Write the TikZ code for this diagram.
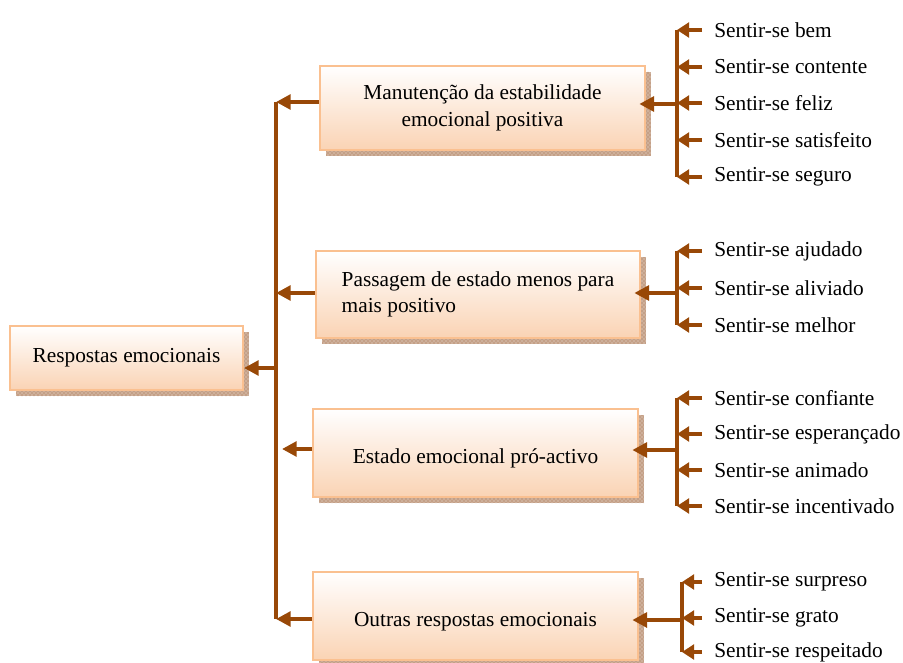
\documentclass[tikz,border=0pt]{standalone}
\usepackage{fontspec}
\setmainfont{Liberation Serif}
\usepackage{xcolor}
\usepackage{tikz}
\usetikzlibrary{patterns}
\usetikzlibrary{shapes,arrows.meta,positioning,shadows}

\definecolor{castanho}{RGB}{152,72,7}
\definecolor{laranjaclaro}{RGB}{250,192,144}
\definecolor{pessego}{RGB}{250,211,180}
\definecolor{sombra}{RGB}{196,160,135}

\tikzset{
    caixa/.style={
        draw=laranjaclaro,
        line width=1.5pt,
        top color=white,
        bottom color=pessego,
        general shadow={shadow xshift=4.5pt, shadow yshift=-4.5pt, fill=sombra,
            postaction={pattern=crosshatch dots, pattern color=white!70!sombra}},
        font=\fontsize{16}{20}\selectfont,
        align=center,
        inner sep=0pt
    },
    folha/.style={
        anchor=west,
        inner xsep=9pt,
        inner ysep=0pt,
        font=\fontsize{16}{20}\selectfont
    },
    tronco/.style={
        draw=castanho,
        line width=3pt
    },
    seta/.style={
        draw=castanho,
        line width=3pt,
        -{Triangle[length=11pt,width=11pt]}
    },
    setinha/.style={
        draw=castanho,
        line width=3pt,
        -{Triangle[length=9pt,width=11pt]}
    }
}

\begin{document}
\begin{tikzpicture}[x=0.75pt,y=-0.75pt]
                \useasboundingbox (0,0) rectangle (903,663);

                \node[caixa, minimum width=174.75pt, minimum height=48pt] (respostas) at (126.5,358) {Respostas emocionais};
                \node[caixa, minimum width=243.75pt, minimum height=63pt] (manutencao) at (482.5,108) {Manuten\c{c}\~ao da estabilidade\\emocional positiva};
                \node[caixa, minimum width=243pt, minimum height=65pt, align=left] (passagem) at (478,294.5) {Passagem de estado menos para\\mais positivo};
                \node[caixa, minimum width=243.75pt, minimum height=66pt, text height=20pt, text depth=4pt] (estado) at (475.5,453) {Estado emocional pr\'o-activo};
                \node[caixa, minimum width=243.75pt, minimum height=66pt, text height=19.5pt, text depth=4pt] (outras) at (475.5,616) {Outras respostas emocionais};

                \node[folha] (bem) at (702,30) {Sentir-se bem};
                \node[folha] (contente) at (702,67) {Sentir-se contente};
                \node[folha] (feliz) at (702,103) {Sentir-se feliz};
                \node[folha] (satisfeito) at (702,140) {Sentir-se satisfeito};
                \node[folha] (seguro) at (702,177) {Sentir-se seguro};

                \node[folha] (ajudado) at (702,251) {Sentir-se ajudado};
                \node[folha] (aliviado) at (702,288) {Sentir-se aliviado};
                \node[folha] (melhor) at (702,325) {Sentir-se melhor};

                \node[folha] (confiante) at (702,398) {Sentir-se confiante};
                \node[folha] (esperancado) at (702,434) {Sentir-se esperan\c{c}ado};
                \node[folha] (animado) at (702,470) {Sentir-se animado};
                \node[folha] (incentivado) at (702,506) {Sentir-se incentivado};

                \node[folha] (surpreso) at (702,582) {Sentir-se surpreso};
                \node[folha] (grato) at (702,618) {Sentir-se grato};
                \node[folha] (respeitado) at (702,652) {Sentir-se respeitado};

                \coordinate (k1) at (276,102);
                \coordinate (k2) at (276,293);
                \coordinate (k3) at (282,449);
                \coordinate (k4) at (276,619);
                \coordinate (kr) at (276,368);

                \coordinate (b1) at (677,104);
                \coordinate (b2) at (677,293);
                \coordinate (b3) at (677,450);
                \coordinate (b4) at (682,620);

                \draw[tronco] (k1) -- (k4);
                \draw[seta] (manutencao.west |- k1) -- (k1);
                \draw[seta] (passagem.west |- k2) -- (k2);
                \draw[seta] (estado.west |- k3) -- (k3);
                \draw[seta] (outras.west |- k4) -- (k4);
                \draw[seta] (kr) -- (respostas.east |- kr);

                \draw[tronco] (b1 |- bem.west) -- (b1 |- seguro.west);
                \draw[seta, shorten >=-5pt] (b1) -- (manutencao.east |- b1);
                \draw[setinha] (bem.west) -- (b1 |- bem.west);
                \draw[setinha] (contente.west) -- (b1 |- contente.west);
                \draw[setinha] (feliz.west) -- (b1 |- feliz.west);
                \draw[setinha] (satisfeito.west) -- (b1 |- satisfeito.west);
                \draw[setinha] (seguro.west) -- (b1 |- seguro.west);

                \draw[tronco] (b2 |- ajudado.west) -- (b2 |- melhor.west);
                \draw[seta, shorten >=-5pt] (b2) -- (passagem.east |- b2);
                \draw[setinha] (ajudado.west) -- (b2 |- ajudado.west);
                \draw[setinha] (aliviado.west) -- (b2 |- aliviado.west);
                \draw[setinha] (melhor.west) -- (b2 |- melhor.west);

                \draw[tronco] (b3 |- confiante.west) -- (b3 |- incentivado.west);
                \draw[seta, shorten >=-5pt] (b3) -- (estado.east |- b3);
                \draw[setinha] (confiante.west) -- (b3 |- confiante.west);
                \draw[setinha] (esperancado.west) -- (b3 |- esperancado.west);
                \draw[setinha] (animado.west) -- (b3 |- animado.west);
                \draw[setinha] (incentivado.west) -- (b3 |- incentivado.west);

                \draw[tronco] (b4 |- surpreso.west) -- (b4 |- respeitado.west);
                \draw[seta, shorten >=-5pt] (b4) -- (outras.east |- b4);
                \draw[setinha] (surpreso.west) -- (b4 |- surpreso.west);
                \draw[setinha] (grato.west) -- (b4 |- grato.west);
                \draw[setinha] (respeitado.west) -- (b4 |- respeitado.west);

            \end{tikzpicture}
\end{document}
